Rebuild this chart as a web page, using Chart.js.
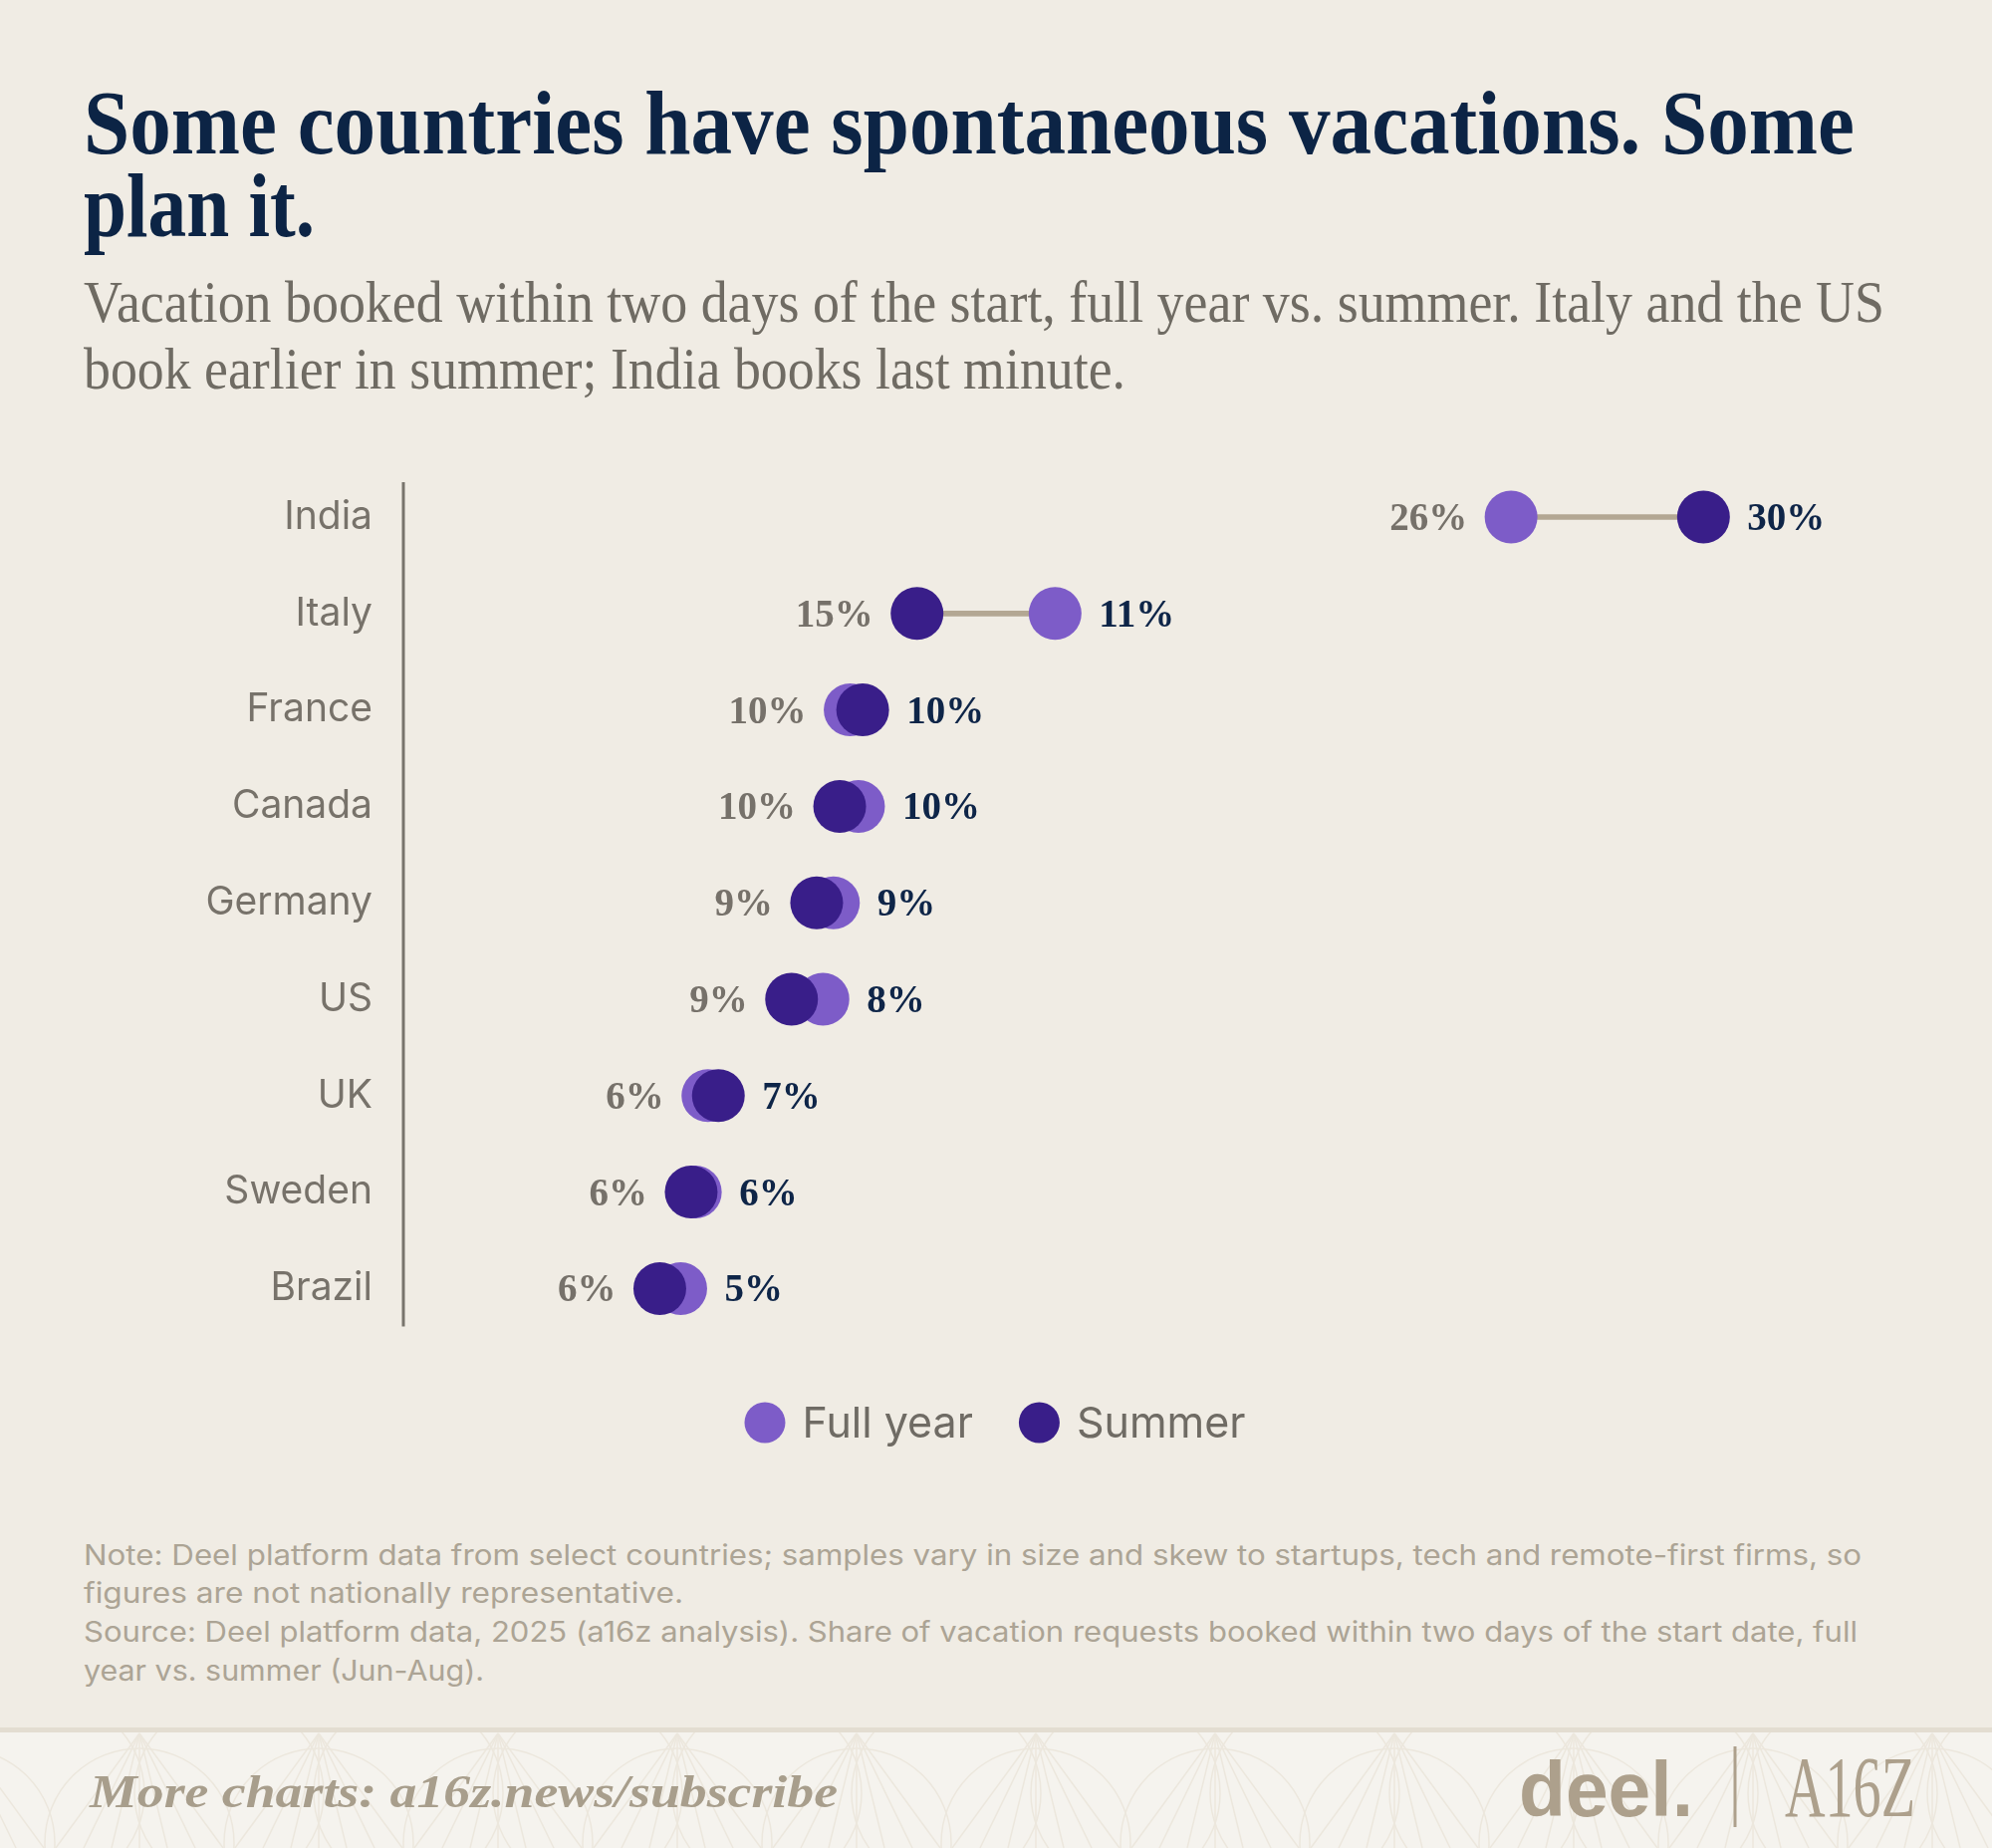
<!DOCTYPE html>
<html><head><meta charset="utf-8">
<script src="https://cdn.jsdelivr.net/npm/chart.js@4.4.1/dist/chart.umd.min.js"></script>
<style>
html,body{margin:0;padding:0;background:#f0ece4;}
#wrap{position:relative;width:2000px;height:1855px;overflow:hidden;background:#f0ece4;}
#deco,#chart{position:absolute;left:0;top:0;}
</style></head><body>
<div id="wrap">
<svg id="deco" width="2000" height="1855" xmlns="http://www.w3.org/2000/svg">
  <defs><clipPath id="band"><rect x="0" y="1739" width="2000" height="116"/></clipPath></defs>
  <rect x="0" y="1737" width="2000" height="118" fill="#f5f3ee"/>
  <g id="pattern" stroke="#ece7dd" stroke-width="1.5" fill="none" clip-path="url(#band)"></g>
  <rect x="0" y="1734" width="2000" height="5" fill="#e3ddd1"/>
  <text x="84" y="154" font-family="Liberation Serif" font-weight="bold" font-size="92" fill="#0c2445" textLength="1778" lengthAdjust="spacingAndGlyphs">Some countries have spontaneous vacations. Some</text>
  <text x="84" y="237" font-family="Liberation Serif" font-weight="bold" font-size="92" fill="#0c2445" textLength="232" lengthAdjust="spacingAndGlyphs">plan it.</text>
  <text x="84" y="323" font-family="Liberation Serif" font-size="60" fill="#6f6b63" textLength="1808" lengthAdjust="spacingAndGlyphs">Vacation booked within two days of the start, full year vs. summer. Italy and the US</text>
  <text x="84" y="390" font-family="Liberation Serif" font-size="60" fill="#6f6b63" textLength="1046" lengthAdjust="spacingAndGlyphs">book earlier in summer; India books last minute.</text>
  <g font-family="Inter" font-size="28" fill="#aca495">
    <text x="84" y="1571" textLength="1785" lengthAdjust="spacingAndGlyphs">Note: Deel platform data from select countries; samples vary in size and skew to startups, tech and remote-first firms, so</text>
    <text x="84" y="1609" textLength="602" lengthAdjust="spacingAndGlyphs">figures are not nationally representative.</text>
    <text x="84" y="1648" textLength="1781" lengthAdjust="spacingAndGlyphs">Source: Deel platform data, 2025 (a16z analysis). Share of vacation requests booked within two days of the start date, full</text>
    <text x="84" y="1687" textLength="402" lengthAdjust="spacingAndGlyphs">year vs. summer (Jun-Aug).</text>
  </g>
  <text x="90" y="1814" font-family="Liberation Serif" font-style="italic" font-weight="bold" font-size="46" fill="#a89e8c" textLength="751" lengthAdjust="spacingAndGlyphs">More charts: a16z.news/subscribe</text>
  <text x="1525" y="1823" font-family="Liberation Sans" font-weight="bold" font-size="78" fill="#ada08c" textLength="175" lengthAdjust="spacingAndGlyphs">deel.</text>
  <line x1="1742" y1="1753" x2="1742" y2="1834" stroke="#ada08c" stroke-width="3"/>
  <text x="1792" y="1823" font-family="Liberation Serif" font-size="86" fill="#ada08c" textLength="131" lengthAdjust="spacingAndGlyphs">A16Z</text>
</svg>
<canvas id="chart" width="2000" height="1855"></canvas>
</div>
<script>
// ---- data ----
const countries = ['India','Italy','France','Canada','Germany','US','UK','Sweden','Brazil'];
const fullYear  = [25.6, 14.7, 9.8, 10.0, 9.4, 9.15, 6.4, 6.1, 5.75];
const summer    = [30.2, 11.4, 10.1, 9.55, 9.0, 8.4, 6.65, 6.0, 5.25];
const fullYearLabels = ['26%','15%','10%','10%','9%','9%','6%','6%','6%'];
const summerLabels   = ['30%','11%','10%','10%','9%','8%','7%','6%','5%'];
const seriesNames = ['Full year','Summer'];

// ---- decorative footer pattern ----
(function(){
  const g = document.getElementById('pattern');
  const ns = 'http://www.w3.org/2000/svg';
  for (let cx = -40; cx < 2100; cx += 180) {
    for (const [dx, cy] of [[0,1850],[90,1800]]) {
      const c = document.createElementNS(ns,'circle');
      c.setAttribute('cx', cx+dx); c.setAttribute('cy', cy); c.setAttribute('r', 95);
      g.appendChild(c);
    }
    for (let k=-3;k<=3;k++){
      const l = document.createElementNS(ns,'line');
      l.setAttribute('x1', cx); l.setAttribute('y1', 1740);
      l.setAttribute('x2', cx + k*28); l.setAttribute('y2', 1855);
      g.appendChild(l);
    }
  }
})();

const LIGHT = '#7d5cc8', DARK = '#391e89', CONNECT = '#b3a793';
const GREY_LABEL = '#76716a', NAVY_LABEL = '#0e2548';

const axisLine = {
  id: 'axisLine',
  beforeDatasetsDraw(c) {
    const y = c.scales.y, ctx = c.ctx;
    const top = y.getPixelForValue(0) - 35;
    const bot = y.getPixelForValue(countries.length - 1) + 38;
    ctx.save();
    ctx.strokeStyle = '#78746c'; ctx.lineWidth = 3;
    ctx.beginPath(); ctx.moveTo(c.chartArea.left, top); ctx.lineTo(c.chartArea.left, bot); ctx.stroke();
    ctx.restore();
  }
};

const valueLabels = {
  id: 'valueLabels',
  afterDatasetsDraw(c) {
    const ctx = c.ctx;
    const sumMeta = c.getDatasetMeta(0), fullMeta = c.getDatasetMeta(1);
    ctx.save();
    ctx.font = 'bold 39px "Liberation Serif"';
    ctx.textBaseline = 'alphabetic';
    countries.forEach((_, i) => {
      const a = fullMeta.data[i], b = sumMeta.data[i];
      const minX = Math.min(a.x, b.x), maxX = Math.max(a.x, b.x);
      const y = a.y + 13;
      ctx.fillStyle = GREY_LABEL; ctx.textAlign = 'right';
      ctx.fillText(fullYearLabels[i], minX - 44, y);
      ctx.fillStyle = NAVY_LABEL; ctx.textAlign = 'left';
      ctx.fillText(summerLabels[i], maxX + 44, y);
    });
    ctx.restore();
  }
};

const legendPlugin = {
  id: 'customLegend',
  afterDraw(c) {
    const ctx = c.ctx;
    const items = [c.data.datasets[1], c.data.datasets[0]];
    ctx.save();
    ctx.font = '43px Inter';
    const r = 20.5, gapText = 17, gapItem = 46;
    const widths = items.map(d => ctx.measureText(d.label).width);
    const total = widths.reduce((s,w)=>s + 2*r + gapText + w, 0) + gapItem*(items.length-1);
    let x = 999 - total/2;
    const cy = 1428;
    items.forEach((d, i) => {
      ctx.fillStyle = d.pointBackgroundColor;
      ctx.beginPath(); ctx.arc(x + r, cy, r, 0, Math.PI*2); ctx.fill();
      ctx.fillStyle = '#6f6b64'; ctx.textAlign = 'left'; ctx.textBaseline = 'alphabetic';
      ctx.fillText(d.label, x + 2*r + gapText, cy + 15);
      x += 2*r + gapText + widths[i] + gapItem;
    });
    ctx.restore();
  }
};

function build() {
  new Chart(document.getElementById('chart').getContext('2d'), {
    type: 'bar',
    data: {
      labels: countries,
      datasets: [
        { type: 'line', label: seriesNames[1], data: summer, indexAxis: 'y', showLine: false,
          pointRadius: 26.5, pointHoverRadius: 26.5, pointBorderWidth: 0,
          pointBackgroundColor: DARK, backgroundColor: DARK, borderColor: DARK, order: 0 },
        { type: 'line', label: seriesNames[0], data: fullYear, indexAxis: 'y', showLine: false,
          pointRadius: 26.5, pointHoverRadius: 26.5, pointBorderWidth: 0,
          pointBackgroundColor: LIGHT, backgroundColor: LIGHT, borderColor: LIGHT, order: 1 },
        { type: 'bar', label: 'range', data: countries.map((c, i) => [fullYear[i], summer[i]]),
          backgroundColor: CONNECT, barThickness: 5, borderWidth: 0, borderSkipped: false, order: 2 }
      ]
    },
    options: {
      indexAxis: 'y',
      responsive: false,
      devicePixelRatio: 1,
      animation: false,
      events: [],
      layout: { padding: { top: 470.6, bottom: 513.2, left: 0, right: 120 } },
      scales: {
        x: { type: 'linear', min: -0.88, max: 34.24, display: false },
        y: { type: 'category', offset: true,
             grid: { display: false, drawTicks: false }, border: { display: false },
             ticks: { padding: 31, color: '#77726a', font: { family: 'Inter', size: 39 } },
             afterFit(s) { s.width = 405; } }
      },
      plugins: { legend: { display: false }, tooltip: { enabled: false } }
    },
    plugins: [axisLine, valueLabels, legendPlugin]
  });
}
Promise.all([
  document.fonts.load('37px Inter'),
  document.fonts.load('bold 39px "Liberation Serif"')
]).then(build, build);
</script>
</body></html>
